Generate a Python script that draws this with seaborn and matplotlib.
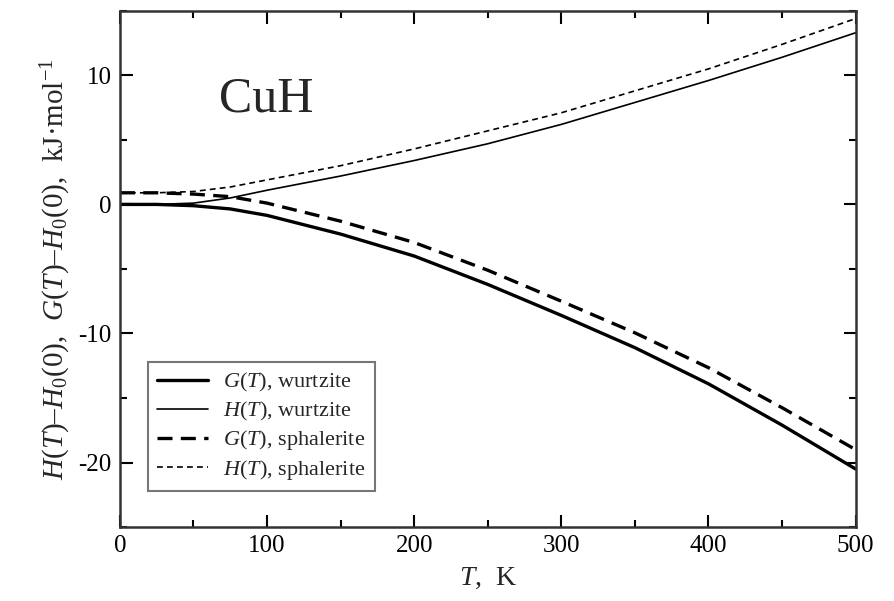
import matplotlib
matplotlib.use("Agg")
import matplotlib.pyplot as plt
import seaborn as sns
import pandas as pd
from matplotlib.ticker import MultipleLocator

# ---- data ----
T = [0, 25, 50, 75, 100, 150, 200, 250, 300, 350, 400, 450, 500]
G_wurtzite = [0.0, 0.0, -0.1, -0.35, -0.85, -2.3, -4.0, -6.2, -8.6, -11.1, -13.9, -17.1, -20.5]
H_wurtzite = [0.0, 0.0, 0.1, 0.5, 1.1, 2.2, 3.4, 4.7, 6.2, 7.9, 9.6, 11.4, 13.3]
G_sphalerite = [0.9, 0.9, 0.8, 0.6, 0.1, -1.3, -2.95, -5.1, -7.5, -9.95, -12.65, -15.75, -19.0]
H_sphalerite = [0.9, 0.9, 1.0, 1.35, 1.9, 3.0, 4.3, 5.7, 7.1, 8.8, 10.5, 12.4, 14.4]

labels = [r"$G(T)$, wurtzite", r"$H(T)$, wurtzite",
          r"$G(T)$, sphalerite", r"$H(T)$, sphalerite"]
x_ticks = [0, 100, 200, 300, 400, 500]
y_ticks = [-20, -10, 0, 10]

sns.set_theme(style="ticks")
plt.rcParams["font.family"] = ["Liberation Serif", "DejaVu Serif"]
plt.rcParams["mathtext.fontset"] = "custom"
plt.rcParams["mathtext.rm"] = "Liberation Serif"
plt.rcParams["mathtext.it"] = "Liberation Serif:italic"
plt.rcParams["axes.unicode_minus"] = False

fig = plt.figure(figsize=(8.95, 6.01), dpi=100)
ax = fig.add_axes([0.134, 0.123, 0.822, 0.859])

series = [
    (G_wurtzite, labels[0], 2.4, None),
    (H_wurtzite, labels[1], 1.2, None),
    (G_sphalerite, labels[2], 2.4, (4.5, 2.5)),
    (H_sphalerite, labels[3], 1.2, (3.5, 2.5)),
]
for vals, lab, lw, dash in series:
    df = pd.DataFrame({"T": T, "v": vals})
    n_before = len(ax.lines)
    sns.lineplot(data=df, x="T", y="v", ax=ax, color="black", linewidth=lw, label=lab)
    line = ax.lines[n_before]
    if dash is not None:
        line.set_dashes(dash)

ax.set_xlim(0, 500)
ax.set_ylim(-25, 15)
ax.set_xticks(x_ticks)
ax.set_yticks(y_ticks)
ax.xaxis.set_minor_locator(MultipleLocator(50))
ax.yaxis.set_minor_locator(MultipleLocator(5))
ax.tick_params(which="both", direction="in", top=True, right=True, width=1.5,
               labelsize=18, colors="black")
ax.tick_params(which="major", length=9, pad=6)
ax.tick_params(which="minor", length=5)
for s in ax.spines.values():
    s.set_linewidth(1.8)
    s.set_color("#333333")

ax.set_xlabel(r"$T$,  K", fontsize=20, labelpad=6)
ax.set_ylabel(r"$H(T)$–$H_0(0)$,  $G(T)$–$H_0(0)$,  kJ·mol$^{-1}$", fontsize=21, labelpad=4)

ax.text(67, 7.2, "CuH", fontsize=36, ha="left", va="baseline")

handles = ax.lines[:4]
leg = ax.legend(handles, labels, loc="lower left", bbox_to_anchor=(0.038, 0.07),
                fontsize=16, frameon=True, fancybox=False, edgecolor="#555555",
                handlelength=2.3, handletextpad=0.7, labelspacing=0.25,
                borderpad=0.4, borderaxespad=0)
leg.get_frame().set_linewidth(1.5)

fig.savefig("out.png", dpi=100)
